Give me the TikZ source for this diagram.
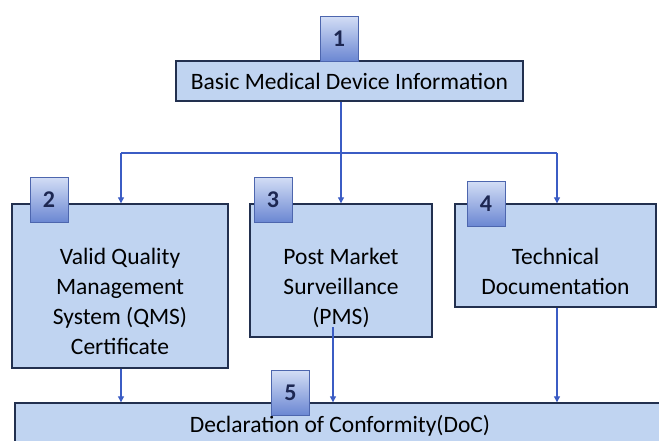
\documentclass[tikz,border=0pt]{standalone}
\usepackage{fontspec}
\setmainfont{Carlito}
\usepackage{xcolor}
\usepackage{tikz}
\usetikzlibrary{arrows.meta}

\definecolor{boxfill}{HTML}{C0D4F1}
\definecolor{boxline}{HTML}{22304F}
\definecolor{arrowblue}{HTML}{3B5CC4}
\definecolor{badgetop}{HTML}{D2DDF5}
\definecolor{badgebot}{HTML}{6A86D2}
\definecolor{badgeline}{HTML}{4D66AE}
\definecolor{numcol}{HTML}{1D2752}

\begin{document}
\begin{tikzpicture}[x=1pt, y=-1pt,
		box/.style={draw=boxline, line width=1.4pt, fill=boxfill, align=center,
			inner sep=0pt, font=\fontsize{23.5}{30}\selectfont},
		boxtext/.style={anchor=north, yshift=-45pt, align=center, inner sep=0pt,
			font=\fontsize{23.5}{30}\selectfont},
		badge/.style={draw=badgeline, line width=0.8pt, top color=badgetop,
			bottom color=badgebot, minimum width=38pt, minimum height=45pt,
			inner sep=0pt, text=numcol, font=\fontsize{24}{26}\selectfont\bfseries},
		arr/.style={draw=arrowblue, line width=1.1pt, -{Triangle[width=6pt,length=6pt]}},
		line/.style={draw=arrowblue, line width=1.1pt}]
		\clip (0,0) rectangle (659,441);
		\fill[white] (0,0) rectangle (659,441);

		% boxes
		\node[box, minimum width=347pt, minimum height=40pt] (info) at (349.5, 81)
			{Basic Medical Device Information};
		\node[box, minimum width=216pt, minimum height=164pt,
			label={[boxtext]north:{Valid Quality\\Management\\System (QMS)\\Certificate}}]
			(qms) at (120, 286) {};
		\node[box, minimum width=182pt, minimum height=133pt,
			label={[boxtext]north:{Post Market\\Surveillance\\(PMS)}}]
			(pms) at (341, 270.5) {};
		\node[box, minimum width=201pt, minimum height=103pt,
			label={[boxtext]north:{Technical\\Documentation}}]
			(tech) at (555.5, 255.5) {};
		\node[box, minimum width=650pt, minimum height=46pt] (doc) at (340, 426)
			{Declaration of Conformity(DoC)};

		% badges
		\node[badge] (b1) at (339, 39)   {1};
		\node[badge] (b2) at (49, 200)   {2};
		\node[badge] (b3) at (273, 200)  {3};
		\node[badge] (b4) at (486, 204)  {4};
		\node[badge] (b5) at (290.5, 393) {5};

		% split points
		\coordinate (jl) at (121, 153);
		\coordinate (jr) at (557, 153);
		\coordinate (pmsout) at (333, 327);

		\draw[arr] (pms.north |- info.south) -- (pms.north);
		\draw[line] (jl) -- (jr);
		\draw[arr] (jl) -- (jl |- qms.north);
		\draw[arr] (jr) -- (jr |- tech.north);

		\draw[arr] (jl |- qms.south) -- (jl |- doc.north);
		\draw[arr] (pmsout) -- (pmsout |- doc.north);
		\draw[arr] (jr |- tech.south) -- (jr |- doc.north);
	\end{tikzpicture}
\end{document}
